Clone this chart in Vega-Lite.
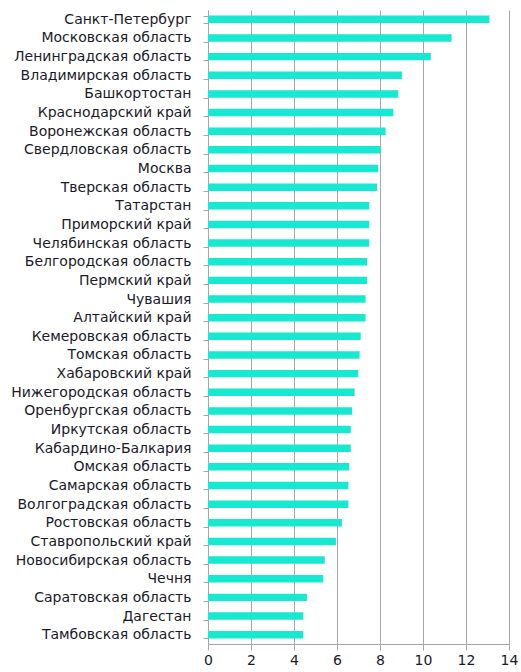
{
  "$schema": "https://vega.github.io/schema/vega-lite/v6.json",
  "width": 301,
  "height": 634,
  "autosize": "none",
  "padding": {"left": 208, "top": 10, "right": 12, "bottom": 28},
  "background": "white",
  "data": {
    "values": [
      {"region": "Санкт-Петербург", "value": 13.09},
      {"region": "Московская область", "value": 11.33},
      {"region": "Ленинградская область", "value": 10.36},
      {"region": "Владимирская область", "value": 9.02},
      {"region": "Башкортостан", "value": 8.85},
      {"region": "Краснодарский край", "value": 8.62},
      {"region": "Воронежская область", "value": 8.26},
      {"region": "Свердловская область", "value": 8.02},
      {"region": "Москва", "value": 7.92},
      {"region": "Тверская область", "value": 7.86},
      {"region": "Татарстан", "value": 7.5},
      {"region": "Приморский край", "value": 7.5},
      {"region": "Челябинская область", "value": 7.5},
      {"region": "Белгородская область", "value": 7.4},
      {"region": "Пермский край", "value": 7.4},
      {"region": "Чувашия", "value": 7.33},
      {"region": "Алтайский край", "value": 7.33},
      {"region": "Кемеровская область", "value": 7.1},
      {"region": "Томская область", "value": 7.05},
      {"region": "Хабаровский край", "value": 6.99},
      {"region": "Нижегородская область", "value": 6.82},
      {"region": "Оренбургская область", "value": 6.7},
      {"region": "Иркутская область", "value": 6.64},
      {"region": "Кабардино-Балкария", "value": 6.64},
      {"region": "Омская область", "value": 6.57},
      {"region": "Самарская область", "value": 6.53},
      {"region": "Волгоградская область", "value": 6.53},
      {"region": "Ростовская область", "value": 6.23},
      {"region": "Ставропольский край", "value": 5.95},
      {"region": "Новосибирская область", "value": 5.43},
      {"region": "Чечня", "value": 5.36},
      {"region": "Саратовская область", "value": 4.6},
      {"region": "Дагестан", "value": 4.43},
      {"region": "Тамбовская область", "value": 4.43}
    ]
  },
  "config": {
    "view": {"stroke": null},
    "font": "DejaVu Sans"
  },
  "mark": {"type": "bar", "color": "#17E8D1"},
  "encoding": {
    "y": {
      "field": "region",
      "type": "nominal",
      "sort": null,
      "title": null,
      "scale": {"paddingInner": 0.6, "paddingOuter": 0.3},
      "axis": {
        "tickBand": "extent",
        "tickSize": 5,
        "tickColor": "#a6a6a6",
        "domainColor": "#a6a6a6",
        "labelPadding": 12,
        "labelFontSize": 14,
        "labelColor": "#1a1a2a",
        "labelFont": "DejaVu Sans",
        "labelLimit": 0,
        "grid": false
      }
    },
    "x": {
      "field": "value",
      "type": "quantitative",
      "title": null,
      "scale": {"domain": [0, 14], "nice": false},
      "axis": {
        "values": [0, 2, 4, 6, 8, 10, 12, 14],
        "grid": true,
        "gridColor": "#a6a6a6",
        "gridOpacity": 1,
        "domainColor": "#a6a6a6",
        "tickColor": "#a6a6a6",
        "tickSize": 6,
        "labelPadding": 3,
        "labelFontSize": 14,
        "labelColor": "#1a1a2a",
        "labelFont": "DejaVu Sans",
        "labelFlush": false
      }
    }
  }
}
